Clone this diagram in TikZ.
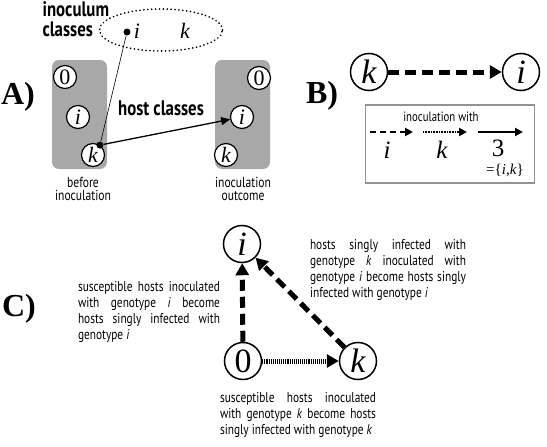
\documentclass[tikz,border=0pt]{standalone}
\usepackage{amsmath}
\usepackage{fontspec}
\setsansfont{PT Sans}[FakeStretch=0.8]
\newfontfamily\serfont{Liberation Serif}
\usetikzlibrary{arrows.meta,positioning,shapes.geometric}
\hyphenpenalty=10000
\exhyphenpenalty=10000

\tikzset{
	hostnode/.style={circle,draw,line width=1.2pt,fill=white,inner sep=0pt,minimum size=23pt,font=\serfont\fontsize{22}{22}\selectfont},
	bignode/.style={circle,draw,line width=1.5pt,fill=white,inner sep=0pt,minimum size=37pt,font=\serfont\fontsize{34}{34}\selectfont},
	hostbox/.style={rounded corners=7pt,fill=gray!68,draw=none},
	panel/.style={font=\serfont\bfseries\fontsize{32}{32}\selectfont},
	boldlab/.style={font=\sffamily\bfseries\fontsize{21}{20}\selectfont,align=left},
	smalllab/.style={font=\sffamily\fontsize{14.5}{13.5}\selectfont,align=center},
	desc/.style={font=\sffamily\fontsize{14.2}{16}\selectfont,align=justify,text width=#1},
	fatdash/.style={line width=5pt,dash pattern=on 11pt off 6pt,-{Triangle[length=12pt,width=13pt]}},
	fatdot/.style={line width=5pt,dash pattern=on 1.1pt off 1pt,-{Triangle[length=12pt,width=13pt]}},
	keydash/.style={line width=2.6pt,dash pattern=on 6pt off 4pt,-{Triangle[length=8pt,width=8pt]}},
	keydot/.style={line width=2.6pt,dash pattern=on 0.8pt off 0.8pt,-{Triangle[length=8pt,width=8pt]}},
	keyline/.style={line width=2.6pt,-{Triangle[length=8pt,width=8pt]}}
}

\begin{document}
\begin{tikzpicture}[x=1pt,y=-1pt]
	\useasboundingbox (0,0) rectangle (547,447);

	%panel letters
	\node[panel] (pA) at (18,97) {A)};
	\node[panel] (pB) at (322,96) {B)};
	\node[panel] (pC) at (19,309) {C)};

	%A: host boxes
	\fill[hostbox] (52,60) rectangle (107,169);
	\fill[hostbox] (215,60) rectangle (270,169);

	%A: circles
	\node[hostnode] (zL) at (65,77)  {0};
	\node[hostnode] (iL) at (78,117) {\itshape i};
	\node[hostnode] (kL) at (93,155) {\itshape k};
	\node[hostnode] (zR) at (259,78)  {0};
	\node[hostnode] (iR) at (242,117) {\itshape i};
	\node[hostnode] (kR) at (226,155) {\itshape k};

	%A: inoculum classes
	\node[ellipse,draw,line width=1.8pt,dash pattern=on 0.1pt off 3.8pt,line cap=round,
		minimum width=123pt,minimum height=42pt] (inoc) at (161,30) {};
	\node[circle,fill,inner sep=0pt,minimum size=7pt] (dotI) at (127,32) {};
	\node[font=\serfont\itshape\fontsize{22}{22}\selectfont] (iI) at (137,31) {i};
	\node[font=\serfont\itshape\fontsize{22}{22}\selectfont] (kI) at (185,31) {k};
	\node[circle,fill,inner sep=0pt,minimum size=7pt] (dotK) at (kL.55) {};

	%A: arrows
	\draw[semithick] (dotI)--(dotK);
	\draw[line width=1.3pt,-{Triangle[length=9pt,width=8pt]}] (dotK)--(iR);

	%A: labels
	\node[boldlab,anchor=west] (inoclab) at (39,19) {inoculum\\classes};
	\node[boldlab] (hostlab) at (161,108) {host classes};
	\node[smalllab] (before) at (83,189) {before\\inoculation};
	\node[smalllab] (outcome) at (243,189) {inoculation\\outcome};

	%B: transition
	\node[bignode] (kB) at (369,72) {\itshape k};
	\node[bignode] (iB) at (521,72) {\itshape i};
	\draw[fatdash] (kB)--(iB);

	%B: key
	\node[draw=gray!85,line width=1.5pt,minimum width=169pt,minimum height=78pt] (key) at (450,144) {};
	\node[font=\sffamily\fontsize{13.5}{12}\selectfont] (keytitle) at (441,117) {inoculation with};
	\coordinate (d1) at (370,132); \coordinate (d2) at (413,132);
	\coordinate (o1) at (423,132); \coordinate (o2) at (467,132);
	\coordinate (s1) at (478,132); \coordinate (s2) at (523,132);
	\draw[keydash] (d1)--(d2);
	\draw[keydot]  (o1)--(o2);
	\draw[keyline] (s1)--(s2);
	\node[font=\serfont\itshape\fontsize{25}{25}\selectfont] (ki) at (387,150) {i};
	\node[font=\serfont\itshape\fontsize{25}{25}\selectfont] (kk) at (442,150) {k};
	\node[font=\serfont\fontsize{25}{25}\selectfont] (k3) at (498,148) {3};
	\node[font=\serfont\fontsize{15}{15}\selectfont] (kset) at (505,170) {=\{\textit{i},\textit{k}\}};

	%C: triangle
	\node[bignode] (iC) at (242,244) {\itshape i};
	\node[bignode] (zC) at (243,361) {0};
	\node[bignode] (kC) at (358,361) {\itshape k};
	\draw[fatdash] (zC)--(iC);
	\draw[fatdash] (kC)--(iC);
	\draw[fatdot]  (zC)--(kC);

	%C: descriptions
	\node[desc=142pt] (dz) at (149,312) {susceptible hosts inoculated\linebreak with genotype \textit{i} become\linebreak hosts singly infected with\linebreak genotype \textit{i}};
	\node[desc=156pt] (dk) at (388,270) {hosts singly infected with\linebreak genotype \textit{k} inoculated with\linebreak genotype \textit{i} become hosts singly\linebreak infected with genotype \textit{i}};
	\node[desc=156pt] (dzk) at (298,415) {susceptible hosts inoculated\linebreak with genotype \textit{k} become hosts\linebreak singly infected with genotype \textit{k}};
\end{tikzpicture}
\end{document}
